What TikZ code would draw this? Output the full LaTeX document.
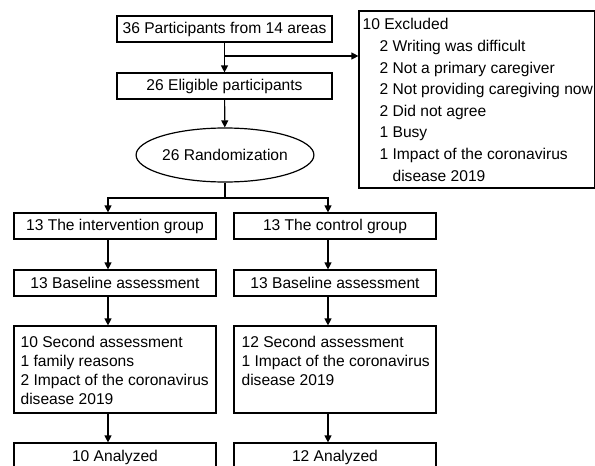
\documentclass[tikz,border=0pt]{standalone}
\usepackage{fontspec}
\setmainfont{Liberation Sans}
\usetikzlibrary{arrows.meta,shapes.geometric,calc}
\begin{document}
\begin{tikzpicture}[x=1pt,y=-1pt,
  every node/.style={font=\fontsize{15.6}{19}\selectfont},
  box/.style={draw,line width=1.2pt,rectangle,inner sep=0pt,minimum height=26pt},
  wbox/.style={box,minimum width=215pt,minimum height=26pt},
  gbox/.style={box,minimum width=202pt},
  arr/.style={line width=1.2pt,-{Triangle[length=7pt,width=7pt]}},
  ln/.style={line width=1.2pt},
  txt/.style={inner sep=0pt,anchor=north west,align=left}
]
\clip (0,0) rectangle (595,466);
\node[wbox] (p36) at (224.5,29) {36 Participants from 14 areas};
\node[wbox] (p26) at (224.5,86) {26 Eligible participants};
\node[draw,ellipse,line width=1.2pt,minimum width=176pt,minimum height=54pt,inner sep=0pt] (rand) at (225,155) {26 Randomization};
\node[box,minimum width=235.5pt,minimum height=177pt] (excl) at (476.75,99.5) {};
\node[txt,font=\fontsize{15.6}{21.6}\selectfont] (excltxt) at ($(excl.north west)+(4,8)$) {10 Excluded\\
\hspace*{17pt}2 Writing was difficult\\
\hspace*{17pt}2 Not a primary caregiver\\
\hspace*{17pt}2 Not providing caregiving now\\
\hspace*{17pt}2 Did not agree\\
\hspace*{17pt}1 Busy\\
\hspace*{17pt}1 Impact of the coronavirus\\
\hspace*{30pt}disease 2019};
\coordinate (br) at (225,56);
\coordinate (split) at (225,198);
% left column
\node[gbox] (iL) at (115,226) {13 The intervention group};
\node[gbox] (bL) at (115,283) {13 Baseline assessment};
\node[gbox,minimum height=87pt] (sL) at (115,369.5) {};
\node[txt] (sLt) at ($(sL.north west)+(7,11)$) {10 Second assessment\\1 family reasons\\2 Impact of the coronavirus\\disease 2019};
\node[gbox,minimum height=28pt] (aL) at (115,457) {10 Analyzed};
% right column
\node[gbox] (iR) at (335,226) {13 The control group};
\node[gbox] (bR) at (335,283) {13 Baseline assessment};
\node[gbox,minimum height=87pt] (sR) at (335,369.5) {};
\node[txt] (sRt) at ($(sR.north west)+(8,11)$) {12 Second assessment\\1 Impact of the coronavirus\\disease 2019};
\node[gbox,minimum height=28pt] (aR) at (335,457) {12 Analyzed};
% connectors
\draw[arr] (p36) -- (p26);
\draw[arr] (br) -- (excl.west |- br);
\draw[arr] (p26) -- (rand);
\draw[ln] (rand.south) -- (split);
\draw[arr] (split) -| ([xshift=-7pt]iL.north);
\draw[arr] (split) -| ([xshift=-7pt]iR.north);
\draw[arr] ([xshift=-7pt]iL.south) -- ([xshift=-7pt]bL.north);
\draw[arr] ([xshift=-7pt]bL.south) -- ([xshift=-7pt]sL.north);
\draw[arr] ([xshift=-7pt]sL.south) -- ([xshift=-7pt]aL.north);
\draw[arr] ([xshift=-7pt]iR.south) -- ([xshift=-7pt]bR.north);
\draw[arr] ([xshift=-7pt]bR.south) -- ([xshift=-7pt]sR.north);
\draw[arr] ([xshift=-7pt]sR.south) -- ([xshift=-7pt]aR.north);
\end{tikzpicture}
\end{document}
